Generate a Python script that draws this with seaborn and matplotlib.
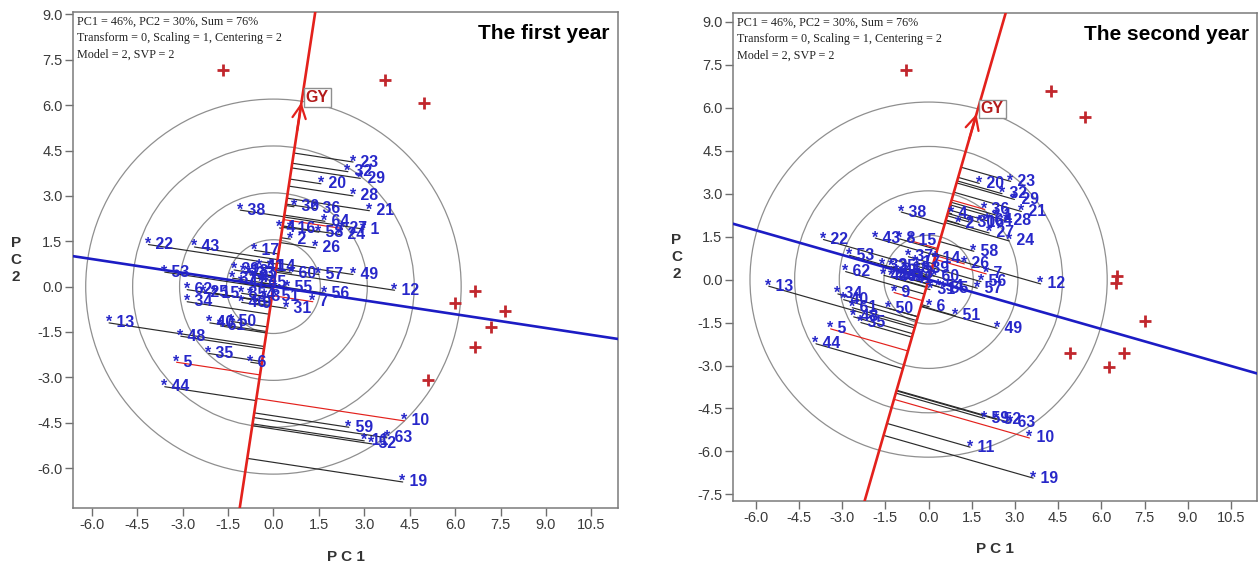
import numpy as np
import matplotlib
matplotlib.use("Agg")
import matplotlib.pyplot as plt
import seaborn as sns
import pandas as pd
from matplotlib.patches import Circle

sns.set_style("white")
plt.rcParams["font.family"] = ["Liberation Sans", "DejaVu Sans"]

# ---------------- first year: genotype scores ----------------
Y1_ID = [23, 32, 29, 20, 28, 30, 36, 21, 38, 64, 27, 1, 24, 58, 4, 16, 2, 26,
         22, 43, 17, 53, 49, 57, 60, 41, 14, 39, 18, 33, 37, 42, 45, 47, 12,
         55, 56, 7, 31, 3, 51, 8, 54, 62, 25, 15, 46, 9, 34, 13, 40, 61, 50,
         48, 35, 6, 5, 44, 10, 59, 11, 52, 63, 19]
Y1_PC1 = [2.63, 2.46, 2.87, 1.57, 2.63, 0.68, 1.39, 3.17, -1.10, 1.70, 2.28,
          2.99, 2.20, 1.50, 0.20, 0.56, 0.56, 1.39, -4.13, -2.61, -0.63,
          -3.59, 2.63, 1.50, 0.60, -0.45, -0.10, -1.30, -1.00, -0.80, -1.35,
          -0.70, -0.40, -1.05, 4.00, 0.45, 1.70, 1.30, 0.42, -0.30, 0.02,
          -1.05, -0.75, -2.85, -2.30, -1.95, -1.05, -0.60, -2.85, -5.43,
          -2.10, -1.75, -1.40, -3.06, -2.14, -0.75, -3.20, -3.59, 4.32, 2.49,
          3.00, 3.25, 3.75, 4.27]
Y1_PC2 = [4.12, 3.80, 3.58, 3.40, 3.00, 2.64, 2.58, 2.51, 2.53, 2.16, 1.92,
          1.90, 1.72, 1.80, 1.94, 1.92, 1.57, 1.28, 1.39, 1.31, 1.20, 0.48,
          0.40, 0.40, 0.45, 0.65, 0.65, 0.55, 0.50, 0.42, 0.28, 0.30, 0.12,
          0.12, -0.12, -0.02, -0.22, -0.50, -0.72, -0.32, -0.32, -0.22, -0.25,
          -0.10, -0.18, -0.22, -0.52, -0.55, -0.50, -1.20, -1.20, -1.30,
          -1.15, -1.64, -2.21, -2.50, -2.50, -3.31, -4.44, -4.65, -5.10,
          -5.20, -5.00, -6.46]
Y1_RED = [5, 10, 27, 7]
Y1_ENV_PC1 = [-1.67, 3.70, 4.97, 6.67, 6.01, 7.64, 7.20, 6.67, 5.10]
Y1_ENV_PC2 = [7.17, 6.84, 6.07, -0.13, -0.55, -0.79, -1.34, -2.00, -3.09]
Y1_GY = [0.94, 6.18]

# ---------------- second year: genotype scores ----------------
Y2_ID = [23, 20, 32, 29, 36, 21, 1, 4, 2, 30, 16, 64, 28, 27, 24, 38, 22, 43,
         8, 15, 58, 53, 26, 62, 37, 14, 33, 25, 45, 18, 42, 46, 47, 41, 3,
         39, 17, 60, 7, 56, 57, 12, 13, 31, 54, 55, 9, 6, 50, 51, 49, 34, 40,
         61, 48, 35, 5, 44, 59, 52, 63, 10, 11, 19]
Y2_PC1 = [2.85, 1.76, 2.55, 2.98, 1.95, 3.22, 2.35, 0.80, 1.05, 1.45, 1.75,
          2.05, 2.70, 2.10, 2.80, -0.95, -3.65, -1.85, -1.00, -0.60, 1.57,
          -2.75, 1.24, -2.88, -0.70, 0.25, -1.60, -1.30, -1.10, -0.80, -1.55,
          -1.30, -1.00, -0.70, -0.40, -0.15, -0.45, 0.20, 2.00, 1.82, 1.69,
          3.89, -5.55, 0.05, 0.35, 0.50, -1.20, 0.02, -1.40, 0.92, 2.38,
          -3.15, -2.95, -2.65, -2.60, -2.35, -3.40, -3.91, 1.95, 2.35, 2.85,
          3.50, 1.44, 3.63]
Y2_PC2 = [3.43, 3.36, 3.00, 2.80, 2.45, 2.38, 2.25, 2.30, 1.95, 2.00, 2.00,
          2.05, 2.05, 1.63, 1.35, 2.36, 1.40, 1.45, 1.42, 1.35, 0.99, 0.85,
          0.55, 0.28, 0.80, 0.75, 0.50, 0.45, 0.30, 0.38, 0.15, 0.10, 0.12,
          0.05, 0.20, 0.40, 0.60, 0.12, 0.20, -0.07, -0.30, -0.15, -0.23,
          -0.35, -0.25, -0.30, -0.45, -0.95, -1.00, -1.26, -1.70, -0.50,
          -0.70, -0.98, -1.30, -1.50, -1.72, -2.24, -4.85, -4.88, -5.00,
          -5.53, -5.85, -6.93]
Y2_RED = [36, 15, 26, 7, 9, 5, 10]
Y2_ENV_PC1 = [-0.79, 4.25, 5.43, 6.53, 6.50, 7.50, 4.92, 6.79, 6.25]
Y2_ENV_PC2 = [7.33, 6.57, 5.68, 0.12, -0.12, -1.43, -2.57, -2.57, -3.06]
Y2_GY = [1.69, 5.88]

RINGS = [1.55, 3.10, 4.65, 6.20]
X_TICKS = [-6.0, -4.5, -3.0, -1.5, 0.0, 1.5, 3.0, 4.5, 6.0, 7.5, 9.0, 10.5]
Y1_TICKS = [-6.0, -4.5, -3.0, -1.5, 0.0, 1.5, 3.0, 4.5, 6.0, 7.5, 9.0]
Y2_TICKS = [-7.5, -6.0, -4.5, -3.0, -1.5, 0.0, 1.5, 3.0, 4.5, 6.0, 7.5, 9.0]
INFO = ("PC1 = 46%, PC2 = 30%, Sum = 76%\n"
        "Transform = 0, Scaling = 1, Centering = 2\n"
        "Model = 2, SVP = 2")

RED = "#e3211c"
BLUE = "#1c1cc4"
GENO = "#2727c9"
ENV = "#c1272d"
GREY = "#8f8f8f"

W, H = 1260, 568
fig = plt.figure(figsize=(W / 100, H / 100), dpi=100)


def px_axes(l, r, t, b):
    return fig.add_axes([l / W, 1 - b / H, (r - l) / W, (b - t) / H])


def biplot(ax, ids, pc1, pc2, red_ids, env1, env2, gy, title,
           xlim, ylim, yticks, ylab_x):
    ax.set_xlim(*xlim)
    ax.set_ylim(*ylim)

    for r in RINGS:
        ax.add_patch(Circle((0, 0), r, fill=False, ec=GREY, lw=0.9, zorder=1))

    g = np.array(gy)
    u = g / np.linalg.norm(g)
    # average-environment axis and its perpendicular through the origin
    ax.axline((0, 0), tuple(g), color=RED, lw=1.9, zorder=3)
    ax.axline((0, 0), (g[1], -g[0]), color=BLUE, lw=1.9, zorder=3)

    geno = pd.DataFrame({"id": ids, "pc1": pc1, "pc2": pc2})
    for _, row in geno.iterrows():
        p = np.array([row.pc1, row.pc2])
        foot = p.dot(u) * u
        col = RED if row.id in red_ids else "#2b2b2b"
        ax.plot([foot[0], p[0]], [foot[1], p[1]], color=col, lw=0.85,
                zorder=2)
    for _, row in geno.iterrows():
        ax.annotate(f"* {int(row.id)}", (row.pc1, row.pc2),
                    xytext=(-2.5, 0), textcoords="offset points",
                    ha="left", va="center", color=GENO, fontsize=11.4,
                    fontweight="bold", zorder=5)

    env = pd.DataFrame({"pc1": env1, "pc2": env2})
    sns.scatterplot(data=env, x="pc1", y="pc2", marker="+", s=70,
                    color=ENV, linewidth=2.0, ax=ax, zorder=6)

    ax.annotate("", xy=tuple(g), xytext=tuple(g * 0.82),
                arrowprops=dict(arrowstyle="->", color=RED, lw=1.6,
                                mutation_scale=24), zorder=4)
    ax.text(g[0] + 0.12, g[1] + 0.08, "GY", color="#b31b1b",
            fontsize=11.5, fontweight="bold", ha="left", va="center",
            zorder=7,
            bbox=dict(boxstyle="square,pad=0.12", fc="white", ec=GREY,
                      lw=1.0))

    ax.text(0.008, 0.993, INFO, transform=ax.transAxes, ha="left", va="top",
            fontsize=8.7, family=["Liberation Serif", "DejaVu Serif"],
            color="#222222", linespacing=1.5, zorder=8)
    ax.text(0.985, 0.975, title, transform=ax.transAxes, ha="right",
            va="top", fontsize=15, fontweight="bold", color="black",
            zorder=8)

    ax.set_xticks(X_TICKS)
    ax.set_xticklabels([f"{v:.1f}" for v in X_TICKS])
    ax.set_yticks(yticks)
    ax.set_yticklabels([f"{v:.1f}" for v in yticks])
    ax.tick_params(axis="both", direction="out", length=5.5, width=1.0,
                   color="#6f6f6f", labelsize=10.5, labelcolor="#3a3a3a",
                   pad=2, bottom=True, left=True)
    for s in ax.spines.values():
        s.set_color("#7a7a7a")
        s.set_linewidth(1.1)

    ax.set_xlabel("P C 1", fontsize=11, fontweight="bold", color="#333333")
    ax.xaxis.set_label_coords(0.5, -0.085)
    ax.set_ylabel("P\nC\n2", fontsize=11, fontweight="bold", rotation=0,
                  color="#333333", linespacing=1.3, va="center", ha="center")
    ax.yaxis.set_label_coords(ylab_x, 0.5)


ax1 = px_axes(73, 618, 12, 508)
biplot(ax1, Y1_ID, Y1_PC1, Y1_PC2, Y1_RED, Y1_ENV_PC1, Y1_ENV_PC2, Y1_GY,
       "The first year", (-6.62, 11.38), (-7.32, 9.08), Y1_TICKS, -0.105)

ax2 = px_axes(733, 1257, 13, 501)
biplot(ax2, Y2_ID, Y2_PC1, Y2_PC2, Y2_RED, Y2_ENV_PC1, Y2_ENV_PC2, Y2_GY,
       "The second year", (-6.79, 11.40), (-7.73, 9.31), Y2_TICKS, -0.108)

fig.savefig("out.png", dpi=100)
